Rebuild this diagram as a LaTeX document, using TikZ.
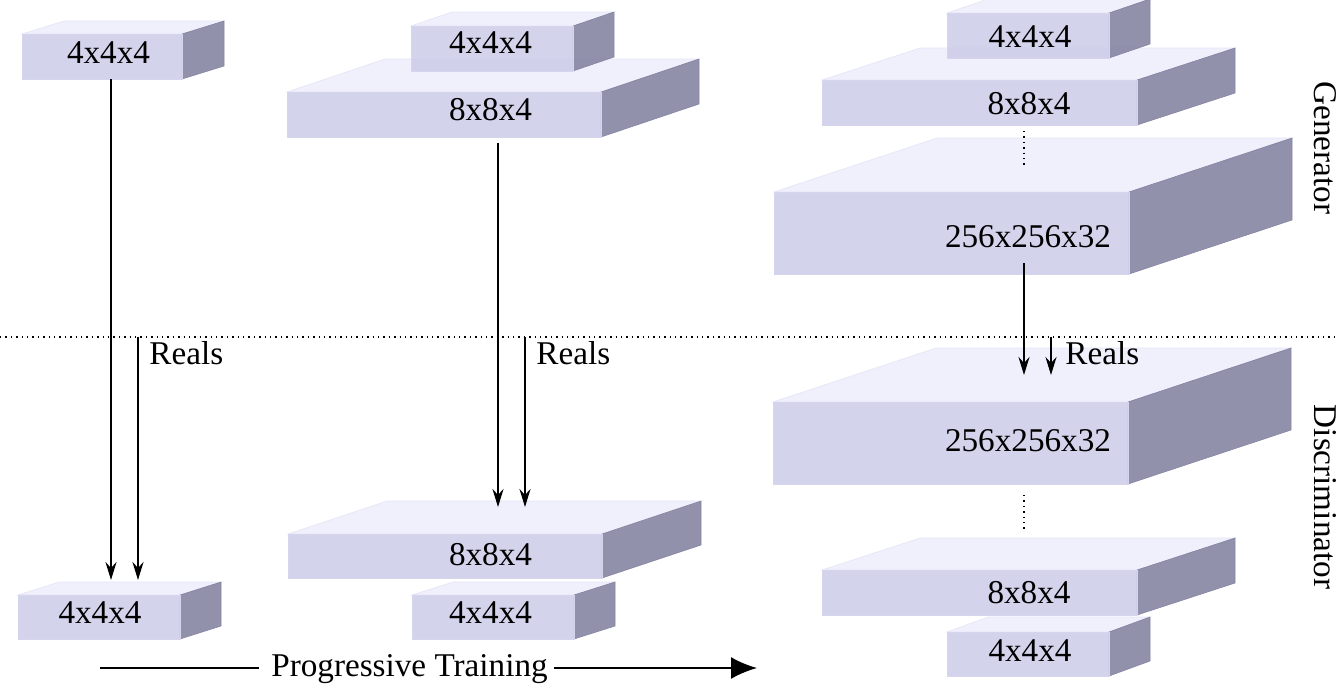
\documentclass[tikz,border=0pt]{standalone}
\usepackage{fontspec}
\setmainfont{Liberation Serif}
\usetikzlibrary{arrows.meta}

\definecolor{facefront}{RGB}{206,206,234}
\definecolor{facetop}{RGB}{238,238,252}
\definecolor{faceside}{RGB}{133,133,163}

% layer box: name, x, y (front top left), width, height, depth dx, depth dy
\newcommand{\layer}[7]{%
  \filldraw[topface] (#2,#3) -- ++(#6,-#7) -- ++(#4,0) -- ++(-#6,#7) -- cycle;
  \filldraw[sideface] (#2+#4,#3) -- ++(#6,-#7) -- ++(0,#5) -- ++(-#6,#7) -- cycle;
  \node[frontface, minimum width={#4*0.5pt}, minimum height={#5*0.5pt}] (#1) at (#2,#3) {};
}

\begin{document}
\begin{tikzpicture}[x=0.5pt,y=-0.5pt,
    topface/.style={fill=facetop, draw=facetop!70!facefront, line width=0.3pt, fill opacity=0.9},
    sideface/.style={fill=faceside, draw=faceside, line width=0.3pt, fill opacity=0.9},
    frontface/.style={anchor=north west, inner sep=0pt, outer sep=0pt, fill=facefront, draw=facefront!85!white, line width=0.3pt, fill opacity=0.9},
    lbl/.style={font=\fontsize{16.6}{20}\selectfont, inner sep=0pt},
    flow/.style={line width=1.2pt, -{Stealth[length=9pt, width=5.5pt, inset=3pt]}},
    progress/.style={line width=1pt}]

    \useasboundingbox (0,0) rectangle (1339,687);

    % Generator side
    \layer{g1}{22}{34}{160}{45}{42}{13}
    \layer{g2b}{287}{92}{314}{45}{98}{33}
    \layer{g2a}{411}{26}{162}{45}{41}{14}
    \layer{g3c}{774}{192}{355}{82}{163}{54}
    \layer{g3b}{822}{80}{315}{45}{98}{32}
    \layer{g3a}{947}{13}{162}{45}{41}{14}

    % Discriminator side
    \layer{d1}{18}{595}{162}{44}{41}{13}
    \layer{d2b}{288}{534}{314}{44}{99}{33}
    \layer{d2a}{412}{595}{162}{44}{41}{13}
    \layer{d3c}{773}{402}{355}{82}{163}{54}
    \layer{d3b}{822}{570}{315}{45}{98}{32}
    \layer{d3a}{947}{632}{162}{44}{41}{15}

    % Labels
    \node[lbl] (g1txt) at (108.5,52.5) {4x4x4};
    \node[lbl] (g2atxt) at (490.5,43) {4x4x4};
    \node[lbl] (g2btxt) at (490.5,110) {8x8x4};
    \node[lbl] (g3atxt) at (1030,37) {4x4x4};
    \node[lbl] (g3btxt) at (1029,104) {8x8x4};
    \node[lbl] (g3ctxt) at (1028,236.5) {256x256x32};
    \node[lbl] (d1txt) at (100,612.5) {4x4x4};
    \node[lbl] (d2btxt) at (490.5,555) {8x8x4};
    \node[lbl] (d2atxt) at (490.5,612.5) {4x4x4};
    \node[lbl] (d3ctxt) at (1028,441) {256x256x32};
    \node[lbl] (d3btxt) at (1029,593) {8x8x4};
    \node[lbl] (d3atxt) at (1030,651) {4x4x4};

    \node[lbl, rotate=-90] (gen) at (1325,148) {Generator};
    \node[lbl, rotate=-90] (dis) at (1325,497) {Discriminator};

    % Dividing line
    \draw[dotted, line width=0.7pt] (0,337) -- (1339,337);

    % Skipped layers
    \draw[dotted, line width=0.7pt] (g3b.south -| 1024,0) ++(0,6) -- ++(0,36);
    \draw[dotted, line width=0.7pt] (d3c.south -| 1024,0) ++(0,11) -- ++(0,37);

    % Fakes and reals
    \coordinate (g1out) at (111,79);
    \coordinate (d1in) at (111,580);
    \coordinate (r1) at (138,337);
    \coordinate (r1in) at (138,580);
    \coordinate (g2out) at (498,143);
    \coordinate (d2in) at (498,507);
    \coordinate (r2) at (525,337);
    \coordinate (r2in) at (525,507);
    \coordinate (g3out) at (1024,263);
    \coordinate (d3in) at (1024,375);
    \coordinate (r3) at (1051,337);
    \coordinate (r3in) at (1051,375);

    \draw[flow] (g1out) -- (d1in);
    \draw[flow] (r1) -- (r1in);
    \draw[flow] (g2out) -- (d2in);
    \draw[flow] (r2) -- (r2in);
    \draw[flow] (g3out) -- (d3in);
    \draw[flow] (r3) -- (r3in);

    \node[lbl, anchor=west] (reals1) at (149,353) {Reals};
    \node[lbl, anchor=west] (reals2) at (536,353) {Reals};
    \node[lbl, anchor=west] (reals3) at (1065,353) {Reals};

    % Progressive training arrow
    \node[lbl] (prog) at (409.5,669) {Progressive Training};
    \coordinate (ptail) at (100,668);
    \coordinate (phead) at (757,668);
    \draw[progress] (ptail) -- ([xshift=-6pt]prog.west |- ptail);
    \draw[progress, -{Latex[length=13pt, width=11pt]}] ([xshift=3pt]prog.east |- phead) -- (phead);

\end{tikzpicture}
\end{document}
